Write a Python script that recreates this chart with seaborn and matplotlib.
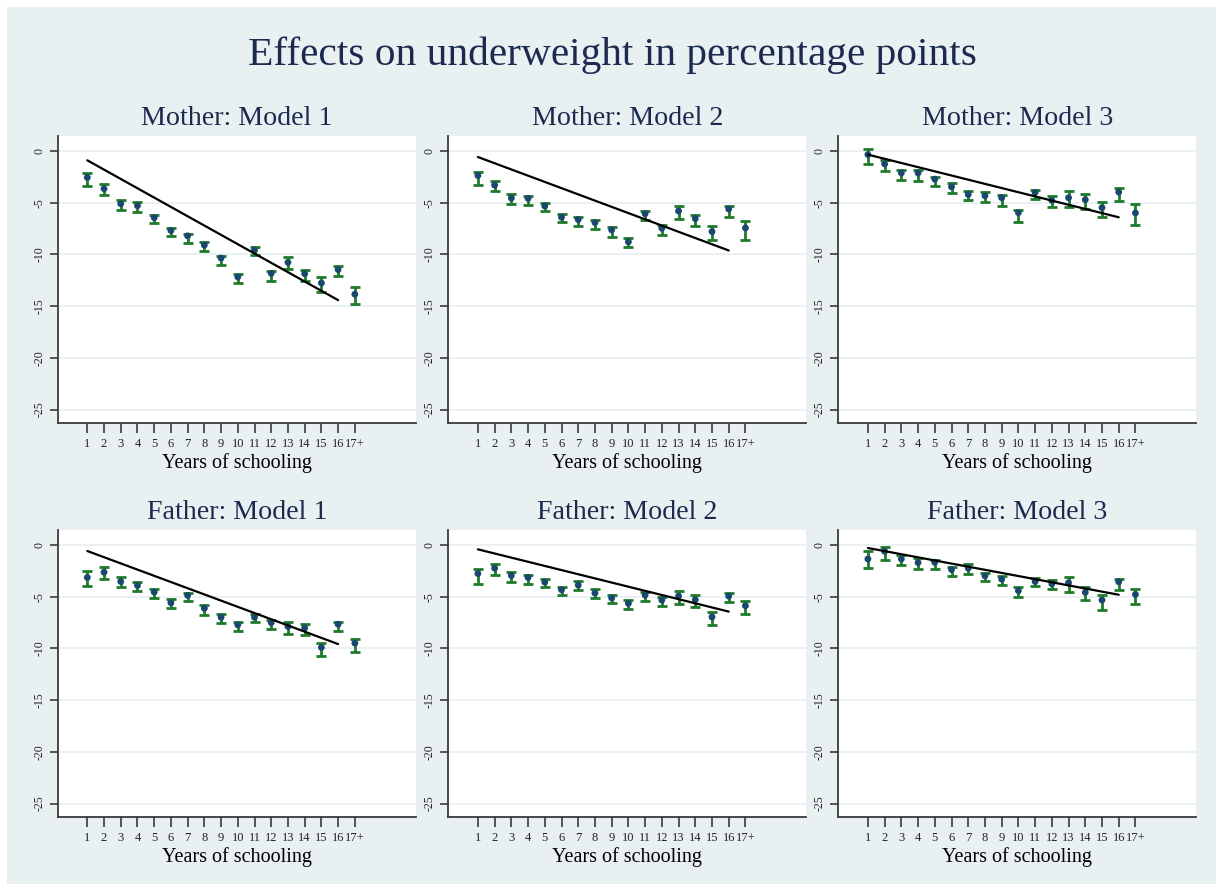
import numpy as np
import pandas as pd
import matplotlib
matplotlib.use("Agg")
import matplotlib.pyplot as plt
import seaborn as sns
from matplotlib.patches import Rectangle

# data
years = list(range(1, 18))
year_labels = [str(i) for i in range(1, 17)] + ["17+"]

panel_titles = ["Mother: Model 1", "Mother: Model 2", "Mother: Model 3",
                "Father: Model 1", "Father: Model 2", "Father: Model 3"]

mother_m1 = [-2.56, -3.65, -5.10, -5.29, -6.44, -7.69, -8.20, -9.10, -10.35,
             -12.18, -9.58, -11.83, -10.77, -11.86, -12.76, -11.47, -13.85]
mother_m1_lo = [-3.37, -4.26, -5.67, -5.87, -6.96, -8.20, -8.85, -9.68, -10.99,
                -12.79, -10.03, -12.53, -11.44, -12.53, -13.59, -12.05, -14.84]
mother_m1_hi = [-2.08, -3.20, -4.74, -4.97, -6.15, -7.47, -7.98, -8.81, -10.13,
                -11.86, -9.29, -11.63, -10.22, -11.47, -12.21, -11.09, -13.17]

mother_m2 = [-2.37, -3.30, -4.55, -4.58, -5.32, -6.41, -6.63, -6.92, -7.63,
             -8.78, -6.06, -7.47, -5.80, -6.54, -7.79, -5.61, -7.44]
mother_m2_lo = [-3.24, -3.88, -5.10, -5.19, -5.80, -6.86, -7.24, -7.56, -8.27,
                -9.33, -6.67, -8.14, -6.54, -7.28, -8.65, -6.41, -8.56]
mother_m2_hi = [-1.99, -2.92, -4.20, -4.33, -5.00, -6.06, -6.35, -6.67, -7.37,
                -8.43, -5.80, -7.15, -5.32, -6.15, -7.24, -5.32, -6.79]

mother_m3 = [-0.35, -1.25, -2.12, -2.12, -2.72, -3.46, -4.20, -4.33, -4.52,
             -5.96, -4.00, -4.78, -4.52, -4.71, -5.48, -3.97, -5.99]
mother_m3_lo = [-1.25, -1.96, -2.79, -2.88, -3.37, -4.04, -4.74, -4.94, -5.29,
                -6.83, -4.68, -5.42, -5.38, -5.61, -6.41, -4.81, -7.12]
mother_m3_hi = [0.16, -0.87, -1.83, -1.86, -2.47, -3.11, -3.85, -3.97, -4.26,
                -5.71, -3.78, -4.39, -3.91, -4.20, -4.97, -3.62, -5.16]

father_m1 = [-3.14, -2.63, -3.53, -3.91, -4.55, -5.58, -4.87, -6.12, -6.99,
             -7.72, -6.99, -7.50, -7.88, -8.01, -9.90, -7.66, -9.49]
father_m1_lo = [-3.94, -3.24, -4.10, -4.49, -5.10, -6.09, -5.45, -6.73, -7.50,
                -8.33, -7.47, -8.14, -8.65, -8.72, -10.74, -8.30, -10.32]
father_m1_hi = [-2.47, -2.15, -3.14, -3.53, -4.23, -5.22, -4.62, -5.83, -6.70,
                -7.44, -6.67, -7.24, -7.47, -7.60, -9.52, -7.40, -9.07]

father_m2 = [-2.76, -2.24, -2.95, -3.14, -3.59, -4.33, -3.88, -4.65, -5.13,
             -5.64, -4.84, -5.32, -4.94, -5.29, -6.96, -4.94, -5.87]
father_m2_lo = [-3.75, -2.88, -3.53, -3.81, -4.10, -4.87, -4.33, -5.16, -5.64,
                -6.15, -5.38, -5.93, -5.67, -6.03, -7.72, -5.51, -6.67]
father_m2_hi = [-2.31, -1.83, -2.63, -2.88, -3.27, -4.07, -3.49, -4.26, -4.87,
                -5.32, -4.58, -5.03, -4.46, -4.81, -6.47, -4.62, -5.38]

father_m3 = [-1.35, -0.61, -1.35, -1.70, -1.67, -2.37, -2.24, -2.98, -3.30,
             -4.42, -3.53, -3.75, -3.65, -4.58, -5.32, -3.56, -4.78]
father_m3_lo = [-2.18, -1.41, -1.92, -2.34, -2.34, -2.95, -2.79, -3.49, -3.91,
                -5.06, -4.01, -4.23, -4.52, -5.35, -6.25, -4.39, -5.71]
father_m3_hi = [-0.58, -0.22, -0.93, -1.25, -1.44, -2.12, -1.86, -2.72, -3.04,
                -4.10, -3.17, -3.37, -3.11, -4.10, -4.84, -3.33, -4.26]

# linear fit, drawn from year 1 to year 16
fit_x = [1, 16]
fit_start = [-0.90, -0.58, -0.35, -0.58, -0.42, -0.29]
fit_end = [-14.42, -9.62, -6.41, -9.58, -6.44, -4.81]

estimates = [mother_m1, mother_m2, mother_m3, father_m1, father_m2, father_m3]
lows = [mother_m1_lo, mother_m2_lo, mother_m3_lo, father_m1_lo, father_m2_lo, father_m3_lo]
highs = [mother_m1_hi, mother_m2_hi, mother_m3_hi, father_m1_hi, father_m2_hi, father_m3_hi]

yticks = [0, -5, -10, -15, -20, -25]

sns.set_theme(style="white")
plt.rcParams['font.family'] = ['Liberation Serif', 'DejaVu Serif']
plt.rcParams['axes.unicode_minus'] = False

W, H = 1216, 884
fig = plt.figure(figsize=(W / 100, H / 100), dpi=100)
fig.patch.set_facecolor("white")
bg = "#e9f0f2"
fig.patches.append(Rectangle((7 / W, 0), 1 - 7 / W, 1 - 7 / H,
                             transform=fig.transFigure, facecolor=bg,
                             edgecolor="none", zorder=-10))

navy = "#1a476f"
green = "#1f7a2a"
title_col = "#1c2a4f"

lefts = [57.7, 448.3, 838.3]
width = 358
tops = [136, 530]
height = 287

fig.text(612 / W, 1 - 55 / H, "Effects on underweight in percentage points",
         ha="center", va="center", fontsize=29.8, color=title_col)

for i in range(6):
    r, c = divmod(i, 3)
    l = lefts[c]
    t = tops[r]
    ax = fig.add_axes([l / W, 1 - (t + height) / H, width / W, height / H])
    ax.set_facecolor("white")

    df = pd.DataFrame({"year": years, "est": estimates[i],
                       "lo": lows[i], "hi": highs[i]})
    yerr = np.vstack([df["est"] - df["lo"], df["hi"] - df["est"]])
    ax.errorbar(df["year"], df["est"], yerr=yerr, fmt="none", ecolor=green,
                elinewidth=2, capsize=3.6, capthick=2, zorder=3)
    sns.scatterplot(data=df, x="year", y="est", color=navy, s=24,
                    edgecolor="none", ax=ax, zorder=4)
    fit = pd.DataFrame({"x": fit_x, "y": [fit_start[i], fit_end[i]]})
    sns.lineplot(data=fit, x="x", y="y", color="black", linewidth=1.6,
                 ax=ax, zorder=5)

    ax.set_xlim(-0.77, 20.64)
    ax.set_ylim(-26.3, 1.45)
    ax.set_xticks(years)
    ax.set_xticklabels(year_labels, fontsize=9)
    ax.set_yticks(yticks)
    ax.set_yticklabels([str(v) for v in yticks], fontsize=8.5, rotation=90,
                       va="center")
    ax.yaxis.grid(True, color="#e6eef1", linewidth=1.2)
    ax.xaxis.grid(False)
    ax.set_axisbelow(True)
    for s in ["top", "right"]:
        ax.spines[s].set_visible(False)
    for s in ["left", "bottom"]:
        ax.spines[s].set_color("#3a3a3a")
        ax.spines[s].set_linewidth(1.3)
    ax.tick_params(axis="x", bottom=True, direction="out", length=7, width=1.2,
                   color="#3a3a3a", pad=4, labelcolor="#222222")
    ax.tick_params(axis="y", left=True, direction="out", length=6, width=1.2,
                   color="#3a3a3a", pad=3, labelcolor="#222222")
    ax.set_xlabel("Years of schooling", fontsize=14.5, color="black", labelpad=2)
    ax.set_ylabel("")
    ax.set_title(panel_titles[i], fontsize=20.2, color=title_col, pad=8)

fig.savefig("out.png", dpi=100, facecolor=fig.get_facecolor())
